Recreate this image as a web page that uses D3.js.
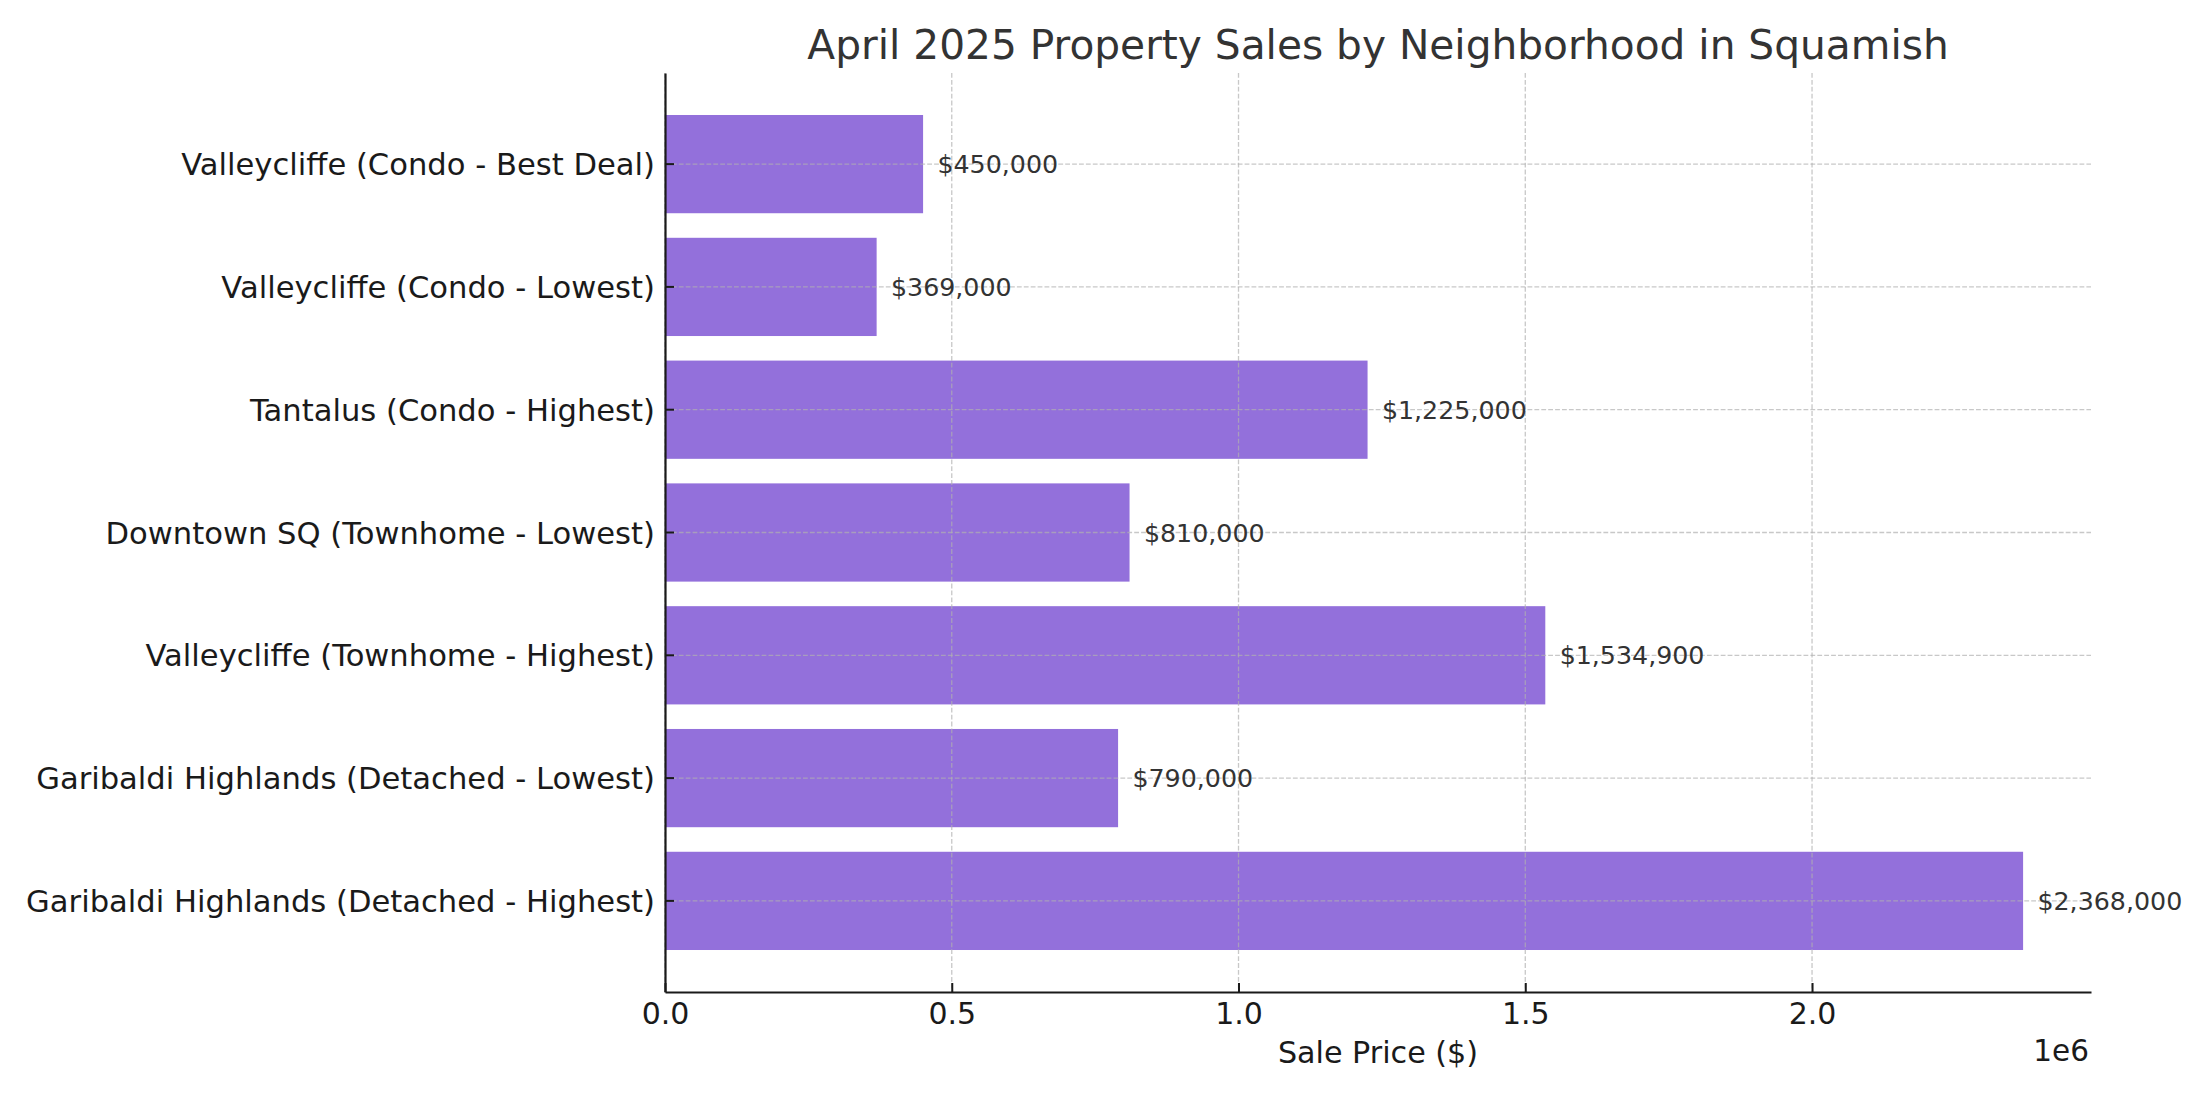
<!DOCTYPE html>
<html>
<head>
<meta charset="utf-8">
<script src="https://cdn.jsdelivr.net/npm/d3@7"></script>
<style>
  body { margin: 0; background: #fff; }
  svg { display: block; font-family: "DejaVu Sans", sans-serif; }
</style>
</head>
<body>
<svg width="2200" height="1100"></svg>
<script>
// neighbourhood sales, bottom bar first (like matplotlib barh)
const categories = [
  "Garibaldi Highlands (Detached - Highest)",
  "Garibaldi Highlands (Detached - Lowest)",
  "Valleycliffe (Townhome - Highest)",
  "Downtown SQ (Townhome - Lowest)",
  "Tantalus (Condo - Highest)",
  "Valleycliffe (Condo - Lowest)",
  "Valleycliffe (Condo - Best Deal)"
];
const prices = [2368000, 790000, 1534900, 810000, 1225000, 369000, 450000];
const xTicks = [0, 500000, 1000000, 1500000, 2000000];

var svg = d3.select("svg");
// plot box (window.top is reserved, so not "top")
var plotLeft = 665, plotRight = 2091, plotTop = 73, plotBottom = 992;

var x = d3.scaleLinear()
  .domain([0, d3.max(prices) * 1.05])
  .range([plotLeft, plotRight]);

// reversed so first category sits at the bottom
var y = d3.scaleBand()
  .domain(categories.slice().reverse())
  .range([plotTop, plotBottom])
  .paddingInner(0.2)
  .paddingOuter(0.342);

var fmt = d3.format(",");

// bars
svg.append("g")
  .selectAll("rect")
  .data(categories)
  .enter()
  .append("rect")
  .attr("x", x(0))
  .attr("y", (d) => y(d))
  .attr("width", (d, i) => x(prices[i]) - x(0))
  .attr("height", y.bandwidth())
  .attr("fill", "#9370DB");

// grid on top of bars
var grid = svg.append("g")
  .attr("stroke", "#b0b0b0")
  .attr("stroke-opacity", 0.7)
  .attr("stroke-width", 1.3)
  .attr("stroke-dasharray", "4.8,2.1");

grid.selectAll("line.vx")
  .data(xTicks)
  .enter()
  .append("line")
  .attr("x1", (d) => x(d))
  .attr("x2", (d) => x(d))
  .attr("y1", plotTop)
  .attr("y2", plotBottom);

grid.selectAll("line.hy")
  .data(categories)
  .enter()
  .append("line")
  .attr("x1", plotLeft)
  .attr("x2", plotRight)
  .attr("y1", (d) => y(d) + y.bandwidth() / 2)
  .attr("y2", (d) => y(d) + y.bandwidth() / 2);

// value labels
svg.append("g")
  .selectAll("text")
  .data(categories)
  .enter()
  .append("text")
  .attr("x", (d, i) => x(prices[i] + 25000))
  .attr("y", (d) => y(d) + y.bandwidth() / 2)
  .attr("dy", "0.36em")
  .attr("font-size", 25.3)
  .attr("fill", "#333")
  .text((d, i) => "$" + fmt(prices[i]));

// axes
var xAxis = svg.append("g")
  .attr("transform", "translate(0," + plotBottom + ")")
  .call(
    d3.axisBottom(x)
      .tickValues(xTicks)
      .tickFormat((d) => (d / 1e6).toFixed(1))
      .tickSizeInner(-9)
      .tickSizeOuter(0)
      .tickPadding(11)
  );

var yAxis = svg.append("g")
  .attr("transform", "translate(" + plotLeft + ",0)")
  .call(
    d3.axisLeft(y)
      .tickSizeInner(-9)
      .tickSizeOuter(0)
      .tickPadding(10)
  );

[xAxis, yAxis].forEach(function (g) {
  g.attr("font-family", null).attr("font-size", 30);
  g.select(".domain").attr("stroke", "#1a1a1a").attr("stroke-width", 2.2);
  g.selectAll(".tick line").attr("stroke", "#1a1a1a").attr("stroke-width", 2);
  g.selectAll(".tick text").attr("fill", "#1a1a1a");
});
yAxis.attr("font-size", 30.6);
yAxis.selectAll(".tick text").attr("dy", "0.36em");

// titles
svg.append("text")
  .attr("x", (plotLeft + plotRight) / 2)
  .attr("y", 59)
  .attr("text-anchor", "middle")
  .attr("font-size", 40.7)
  .attr("fill", "#333")
  .text("April 2025 Property Sales by Neighborhood in Squamish");

svg.append("text")
  .attr("x", (plotLeft + plotRight) / 2)
  .attr("y", 1063)
  .attr("text-anchor", "middle")
  .attr("font-size", 30.2)
  .attr("fill", "#1a1a1a")
  .text("Sale Price ($)");

svg.append("text")
  .attr("x", plotRight - 2)
  .attr("y", 1061)
  .attr("text-anchor", "end")
  .attr("font-size", 29.5)
  .attr("fill", "#1a1a1a")
  .text("1e6");
</script>
</body>
</html>
